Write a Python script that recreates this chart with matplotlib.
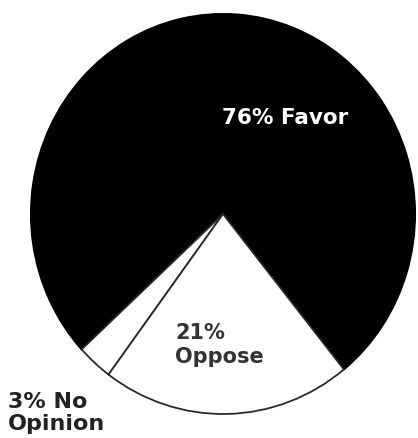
import matplotlib
matplotlib.use("Agg")
import matplotlib.pyplot as plt

labels = ["Favor", "No Opinion", "Oppose"]
shares = [76, 3, 21]
colors = ["black", "white", "white"]

fig = plt.figure(figsize=(4.18, 4.38), dpi=100)
# pie centre about (223, 214) px from top-left, slightly squashed scan
cx, cy = 223 / 418, 1 - 214 / 438
rx, ry = 192, 200
ax = fig.add_axes([cx - rx / 418, cy - ry / 438, 2 * rx / 418, 2 * ry / 438])

wedges, _ = ax.pie(shares, colors=colors, startangle=-51, counterclock=True,
                   radius=1.0, wedgeprops=dict(edgecolor="black", linewidth=1.5))
for w in wedges[1:]:
    w.set_edgecolor("#2a2a2a")
    w.set_linewidth(1.3)
ax.set_xlim(-1, 1)
ax.set_ylim(-1, 1)
ax.set_aspect("auto")
ax.axis("off")

font = dict(family=["DejaVu Sans"], fontweight="bold")
fig.text(222 / 418, 1 - 118 / 438, "%d%% %s" % (shares[0], labels[0]),
         color="white", fontsize=15.5, ha="left", va="center", **font)
fig.text(175 / 418, 1 - 345 / 438, "%d%%\n%s" % (shares[2], labels[2]),
         color="#333333", fontsize=15, ha="left", va="center",
         linespacing=1.25, **font)
fig.text(8 / 418, 1 - 413 / 438, "%d%% No\nOpinion" % shares[1],
         color="#222222", fontsize=16, ha="left", va="center",
         linespacing=1.15, **font)

fig.savefig("out.png", dpi=100, facecolor="white")
